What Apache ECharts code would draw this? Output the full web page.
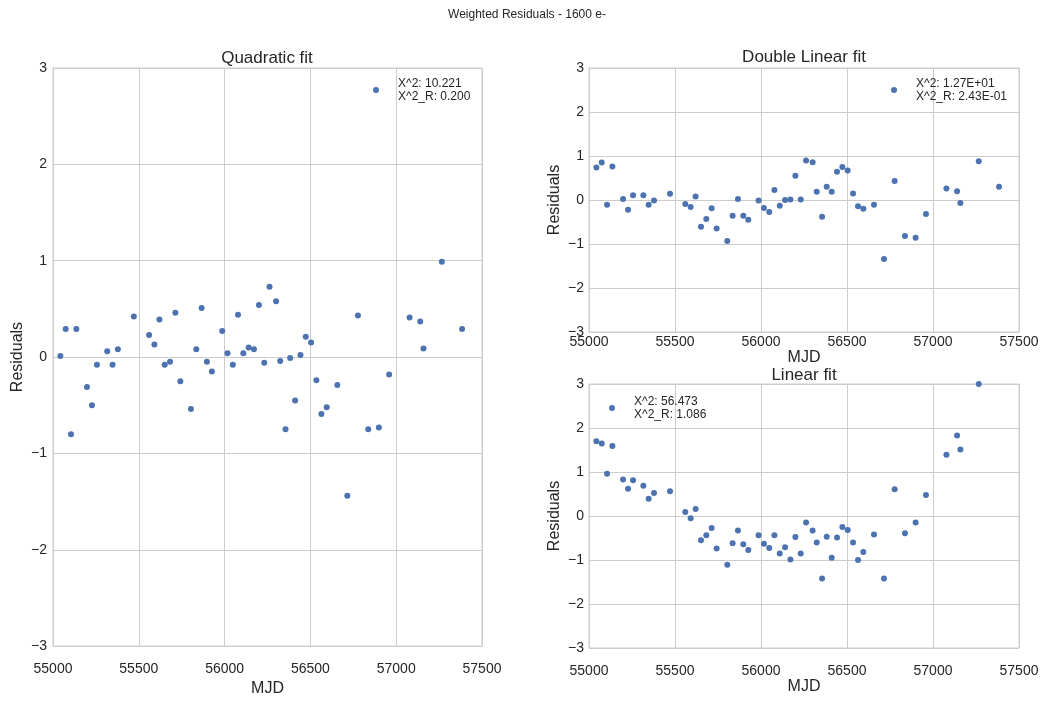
<!DOCTYPE html>
<html>
<head>
<meta charset="utf-8">
<title>Weighted Residuals - 1600 e-</title>
<script src="https://cdn.jsdelivr.net/npm/echarts@6/dist/echarts.min.js"></script>
<style>
  html, body { margin: 0; padding: 0; background: #fff; }
  #main { width: 1044px; height: 702px; }
</style>
</head>
<body>
<div id="main"></div>
<script>
    // MJD of every measurement (same for all three fits)
    var mjd = [55043, 55074, 55105, 55136, 55198, 55227, 55256, 55316, 55347, 55378,
               55471, 55560, 55591, 55620, 55651, 55682, 55713, 55742, 55804, 55835,
               55866, 55897, 55926, 55986, 56017, 56048, 56078, 56109, 56140, 56171,
               56200, 56231, 56262, 56300, 56324, 56355, 56382, 56411, 56442, 56473,
               56504, 56535, 56564, 56595, 56657, 56715, 56777, 56837, 56899, 56959,
               57078, 57140, 57159, 57266, 57384];

    // residuals per fit
    var quadRes = [0.01, 0.29, -0.80, 0.29, -0.31, -0.50, -0.08, 0.06, -0.08, 0.08,
                   0.42, 0.23, 0.13, 0.39, -0.08, -0.05, 0.46, -0.25, -0.54, 0.08,
                   0.51, -0.05, -0.15, 0.27, 0.04, -0.08, 0.44, 0.04, 0.10, 0.08,
                   0.54, -0.06, 0.73, 0.58, -0.04, -0.75, -0.01, -0.45, 0.02, 0.21,
                   0.15, -0.24, -0.59, -0.52, -0.29, -1.44, 0.43, -0.75, -0.73, -0.18,
                   0.41, 0.37, 0.09, 0.99, 0.29];
    var dblRes = [0.74, 0.85, -0.11, 0.76, 0.02, -0.22, 0.11, 0.11, -0.11, -0.01,
                  0.14, -0.09, -0.16, 0.08, -0.61, -0.43, -0.19, -0.65, -0.93, -0.36,
                  0.02, -0.36, -0.45, -0.01, -0.18, -0.27, 0.23, -0.13, 0.00, 0.01,
                  0.55, 0.01, 0.90, 0.86, 0.19, -0.38, 0.30, 0.19, 0.64, 0.75,
                  0.67, 0.15, -0.14, -0.20, -0.11, -1.34, 0.43, -0.82, -0.86, -0.32,
                  0.26, 0.20, -0.07, 0.88, 0.30];
    var linRes = [1.70, 1.65, 0.96, 1.59, 0.83, 0.62, 0.81, 0.69, 0.39, 0.52,
                  0.56, 0.09, -0.05, 0.16, -0.55, -0.44, -0.27, -0.74, -1.11, -0.62,
                  -0.33, -0.64, -0.77, -0.44, -0.63, -0.73, -0.44, -0.85, -0.71, -0.99,
                  -0.48, -0.85, -0.15, -0.33, -0.60, -1.42, -0.47, -0.95, -0.49, -0.25,
                  -0.32, -0.60, -1.00, -0.82, -0.42, -1.42, 0.61, -0.39, -0.15, 0.48,
                  1.39, 1.83, 1.51, 3.00, 3.50];

    var quadLabel = 'X^2: 10.221\nX^2_R: 0.200';
    var dblLabel = 'X^2: 1.27E+01\nX^2_R: 2.43E-01';
    var linLabel = 'X^2: 56.473\nX^2_R: 1.086';

    var ink = '#262626';
    var gridGray = '#cccccc';
    var dotColor = '#4c72b0';
    var font = '"Liberation Sans", Arial, sans-serif';

    function pairs(ys) {
        return mjd.map(function (x, i) { return [x, ys[i]]; });
    }

    function xAx(idx, labelMargin, nameGap) {
        return {
            gridIndex: idx, type: 'value', min: 55000, max: 57500, interval: 500,
            name: 'MJD', nameLocation: 'middle', nameGap: nameGap,
            nameTextStyle: { color: ink, fontSize: 16, fontFamily: font },
            axisLine: { lineStyle: { color: gridGray } },
            axisTick: { show: false },
            axisLabel: { color: ink, fontSize: 14, fontFamily: font, margin: labelMargin,
                         formatter: function (v) { return String(v); } },
            splitLine: { lineStyle: { color: gridGray, width: 1 } }
        };
    }
    function yAx(idx, labelMargin, nameGap) {
        return {
            gridIndex: idx, type: 'value', min: -3, max: 3, interval: 1,
            name: 'Residuals', nameLocation: 'middle', nameGap: nameGap,
            nameTextStyle: { color: ink, fontSize: 16, fontFamily: font },
            axisLine: { lineStyle: { color: gridGray } },
            axisTick: { show: false },
            axisLabel: {
                color: ink, fontSize: 14, fontFamily: font, margin: labelMargin,
                formatter: function (v) { return String(v).replace('-', '\u2212'); }
            },
            splitLine: { lineStyle: { color: gridGray, width: 1 } }
        };
    }
    function legendAt(name, left, top) {
        return {
            data: [name], left: left, top: top, orient: 'vertical',
            icon: 'circle', itemWidth: 6, itemHeight: 6,
            textStyle: { color: ink, fontSize: 12, lineHeight: 13, fontFamily: font, padding: [0, 0, 0, 14] },
            selectedMode: false
        };
    }
    function scatter(name, idx, ys) {
        return { name: name, type: 'scatter', xAxisIndex: idx, yAxisIndex: idx, data: pairs(ys),
                 symbolSize: 6, itemStyle: { color: dotColor, opacity: 1 }, clip: true };
    }

    var myChart = echarts.init(document.getElementById('main'));
    var option = {
        animation: false,
        backgroundColor: '#ffffff',
        title: [
            { text: 'Weighted Residuals - 1600 e-', left: 527, top: 9, textAlign: 'center', padding: 0,
              textStyle: { color: ink, fontSize: 12, fontWeight: 'normal', fontFamily: font } },
            { text: 'Quadratic fit', left: 267, top: 50, textAlign: 'center', padding: 0,
              textStyle: { color: ink, fontSize: 17, fontWeight: 'normal', fontFamily: font } },
            { text: 'Double Linear fit', left: 804, top: 49, textAlign: 'center', padding: 0,
              textStyle: { color: ink, fontSize: 17, fontWeight: 'normal', fontFamily: font } },
            { text: 'Linear fit', left: 804, top: 367, textAlign: 'center', padding: 0,
              textStyle: { color: ink, fontSize: 17, fontWeight: 'normal', fontFamily: font } }
        ],
        legend: [
            legendAt(quadLabel, 368, 72),
            legendAt(dblLabel, 886, 72),
            legendAt(linLabel, 604, 390)
        ],
        grid: [
            { left: 53, top: 68, width: 429, height: 580, show: true, borderColor: gridGray, borderWidth: 1 },
            { left: 589, top: 68, width: 430, height: 264, show: true, borderColor: gridGray, borderWidth: 1 },
            { left: 589, top: 384, width: 430, height: 264, show: true, borderColor: gridGray, borderWidth: 1 }
        ],
        xAxis: [xAx(0, 16, 31), xAx(1, 3, 17), xAx(2, 16, 31)],
        yAxis: [yAx(0, 6, 27), yAx(1, 5, 26), yAx(2, 5, 26)],
        series: [
            scatter(quadLabel, 0, quadRes),
            scatter(dblLabel, 1, dblRes),
            scatter(linLabel, 2, linRes)
        ]
    };
    myChart.setOption(option);
</script>
</body>
</html>
